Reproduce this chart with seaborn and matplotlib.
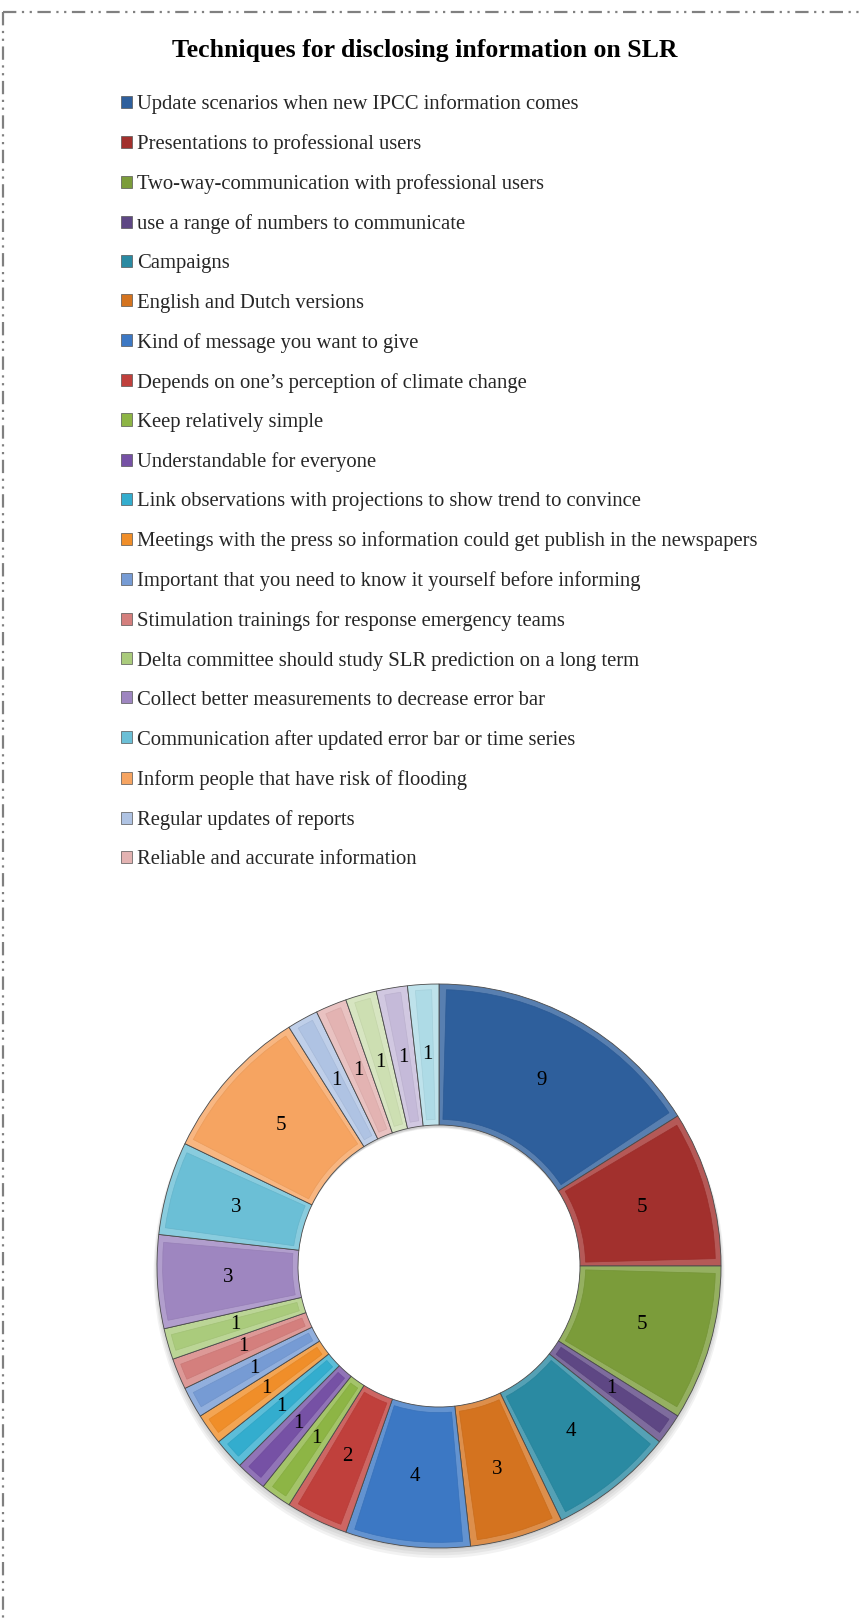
import matplotlib
matplotlib.use("Agg")
import matplotlib.pyplot as plt
import seaborn as sns
import numpy as np
from matplotlib.patches import Wedge
from matplotlib.lines import Line2D
from matplotlib.colors import to_rgb

# Survey answers: techniques for disclosing information on sea level rise
categories = [
    "Update scenarios when new IPCC information comes",
    "Presentations to professional users",
    "Two-way-communication with professional users",
    "use a range of numbers to communicate",
    "Campaigns",
    "English and Dutch versions",
    "Kind of message you want to give",
    "Depends on one\u2019s perception of climate change",
    "Keep relatively simple",
    "Understandable for everyone",
    "Link observations with projections to show trend to convince",
    "Meetings with the press so information could get publish in the newspapers",
    "Important that you need to know it yourself before informing",
    "Stimulation trainings for response emergency teams",
    "Delta committee should study SLR prediction on a long term",
    "Collect better measurements to decrease error bar",
    "Communication after updated error bar or time series",
    "Inform people that have risk of flooding",
    "Regular updates of reports",
    "Reliable and accurate information",
    "Category 21",
    "Category 22",
    "Category 23",
]
counts = [9, 5, 5, 1, 4, 3, 4, 2, 1, 1, 1, 1, 1, 1, 1, 3, 3, 5, 1, 1, 1, 1, 1]
legend_count = 20

# Office-style palette in four shade cycles
palette = [
    "#2E5F9C", "#A2302D", "#7B9C3A", "#5E4784", "#2A8AA2", "#D4731F",
    "#3C78C4", "#C0403C", "#8DB545", "#7651A5", "#33ADCE", "#F08E29",
    "#769BD4", "#D47F7D", "#AACB7C", "#9E86C0", "#6BBFD6", "#F6A461",
    "#AFC3E3", "#E3B3B2", "#CDDFB2", "#C5BAD9", "#AEDBE6",
]

title = "Techniques for disclosing information on SLR"

sns.set_theme(style="white")
plt.rcParams["font.family"] = ["Liberation Serif", "DejaVu Serif"]

W, H = 862, 1620
fig = plt.figure(figsize=(W / 100, H / 100), dpi=100)
fig.patch.set_facecolor("white")


def tint(c, f):
    r, g, b = to_rgb(c)
    return (r + (1 - r) * f, g + (1 - g) * f, b + (1 - b) * f)


def shade(c, f):
    r, g, b = to_rgb(c)
    return (r * (1 - f), g * (1 - f), b * (1 - f))


# Donut axes: centre (439, 1266) px, outer radius 282 px
cx, cy, R = 439, 1266, 282
pad = 292
ax = fig.add_axes([(cx - pad) / W, (H - cy - pad) / H, 2 * pad / W, 2 * pad / H])

# soft drop shadow under the ring
for k, a in enumerate([0.05, 0.05, 0.05, 0.05]):
    off = 0.006 * (k + 1)
    ax.add_patch(Wedge((0, -off), 1.0 + 0.004 * k, 0, 360, width=0.5,
                       facecolor="#000000", alpha=a, linewidth=0, zorder=0))

total = sum(counts)
frame_colors = [tint(c, 0.20) for c in palette]
wedges, _, autotexts = ax.pie(
    counts,
    colors=frame_colors,
    startangle=90,
    counterclock=False,
    radius=1.0,
    autopct=lambda p: f"{int(round(p * total / 100))}",
    pctdistance=0.75,
    wedgeprops=dict(width=0.5, edgecolor="#4a4a4a", linewidth=0.6, zorder=1),
    textprops=dict(fontsize=15, color="black"),
)

# bevel-like inset faces
d = 0.02
faces = []
for w, col in zip(wedges, palette):
    da = np.degrees(d / 0.75)
    face = Wedge(w.center, w.r - d, w.theta1 + da, w.theta2 - da,
                 width=w.width - 2 * d, facecolor=col,
                 edgecolor=shade(col, 0.05), linewidth=0.5, zorder=2)
    ax.add_patch(face)
    faces.append(face)
for t in autotexts:
    t.set_zorder(5)

lim = pad / R
ax.set_xlim(-lim, lim)
ax.set_ylim(-lim, lim)
ax.set_aspect("equal")
ax.axis("off")

# Title
fig.text(425 / W, 1 - 50 / H, title, ha="center", va="center",
         fontsize=18.5, fontweight="bold", color="black")

# Legend (first 20 categories)
leg = fig.legend(
    handles=faces[:legend_count],
    labels=categories[:legend_count],
    loc="upper left",
    bbox_to_anchor=(121 / W, 1 - 94 / H),
    frameon=False,
    fontsize=14.9,
    handlelength=0.52,
    handleheight=0.52,
    handletextpad=0.25,
    labelspacing=0.975,
    borderpad=0,
    borderaxespad=0,
)
for h in leg.legend_handles:
    h.set_linewidth(0.5)
    h.set_edgecolor("#555555")

# Dash-dot-dot chart-area border (top and left)
ls = (0, (6, 2.5, 1, 2.5, 1, 2.5))
fig.add_artist(Line2D([3.5 / W, 1.0], [1 - 12 / H, 1 - 12 / H],
                      transform=fig.transFigure, color="#808080", lw=1.6, ls=ls))
fig.add_artist(Line2D([3.5 / W, 3.5 / W], [1 - 12 / H, 0.0],
                      transform=fig.transFigure, color="#808080", lw=1.6, ls=ls))

fig.savefig("out.png", dpi=100, facecolor="white")
